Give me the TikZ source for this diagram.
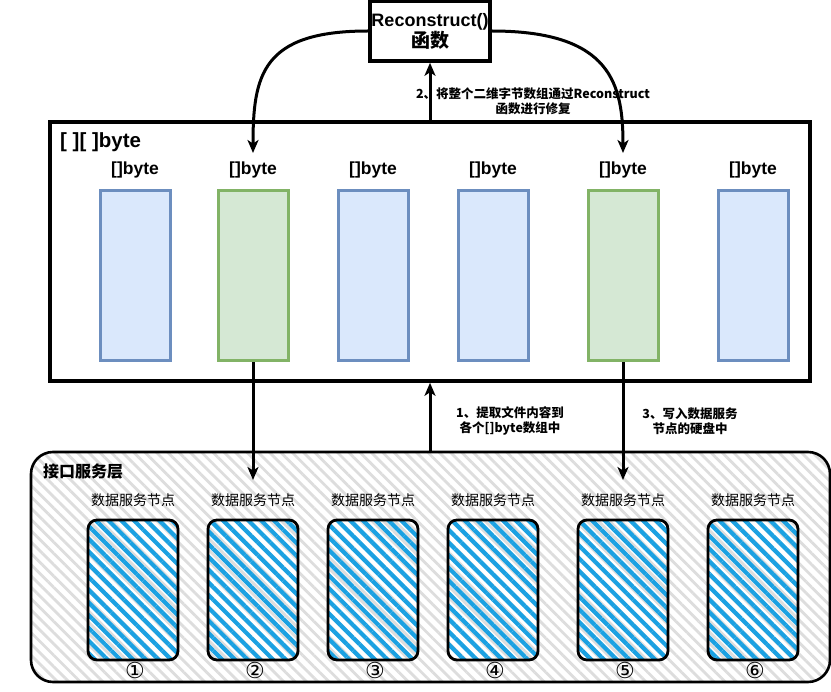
\documentclass[tikz,border=0pt]{standalone}
\usepackage{fontspec}
\setmainfont{Liberation Sans}
\newfontfamily\cjk{Noto Sans CJK SC}
\newfontfamily\dejavu{DejaVu Sans}
\usetikzlibrary{arrows.meta,patterns.meta}
\definecolor{bluefill}{HTML}{DAE8FC}
\definecolor{blueline}{HTML}{6C8EBF}
\definecolor{greenfill}{HTML}{D5E8D4}
\definecolor{greenline}{HTML}{82B366}
\definecolor{hatchblue}{HTML}{1BA1E2}
\definecolor{hatchgray}{HTML}{DDDDDD}
\tikzset{
  arr/.style={line width=3pt,-{Stealth[length=13pt,width=11pt,inset=3.5pt]}},
  bluebox/.style={draw=blueline,fill=bluefill,line width=3pt,minimum width=70pt,minimum height=170pt,inner sep=0pt},
  greenbox/.style={draw=greenline,fill=greenfill,line width=3pt,minimum width=70pt,minimum height=170pt,inner sep=0pt},
  bytelbl/.style={font=\bfseries\fontsize{17.5}{18}\selectfont,inner sep=0pt},
  datanode/.style={draw=black,line width=2.8pt,rounded corners=9pt,minimum width=90pt,minimum height=140pt,inner sep=0pt,
    pattern={Lines[angle=-45,distance=9pt,line width=4.2pt]},pattern color=hatchblue},
  dlbl/.style={font=\cjk\fontsize{14}{16}\selectfont,inner sep=0pt},
  numlbl/.style={font=\dejavu\fontsize{22}{22}\selectfont,inner sep=0pt},
  note/.style={font=\cjk\bfseries\fontsize{12.5}{15}\selectfont,align=center,inner sep=0pt}
}
\begin{document}
\begin{tikzpicture}[x=1pt,y=-1pt]
\useasboundingbox (0,0) rectangle (831,692);
% bottom layer
\node[draw=black,line width=2.6pt,rounded corners=22pt,minimum width=799pt,minimum height=230pt,inner sep=0pt,
  preaction={fill=white},pattern={Lines[angle=-45,distance=8pt,line width=2.8pt]},pattern color=hatchgray] (layer) at (430.5,567) {};
\node[font=\cjk\bfseries\fontsize{16}{18}\selectfont,anchor=west,inner sep=0pt] (layerlbl) at (43,472) {接口服务层};
% data nodes
\foreach \i/\x/\n in {1/133/①,2/253/②,3/373/③,4/493/④,5/623/⑤,6/753/⑥}{
  \node[datanode] (d\i) at (\x,590) {};
  \node[dlbl] (dl\i) at (\x,500) {数据服务节点};
  \node[numlbl] (n\i) at (\x+2,670) {\n};
}
% big frame
\node[draw=black,line width=3.6pt,minimum width=760pt,minimum height=259pt,inner sep=0pt] (frame) at (430,251.5) {};
\node[font=\bfseries\fontsize{20.5}{21}\selectfont,anchor=west,inner sep=0pt] (flbl) at (60,142) {[ ][ ]byte};
\node[bluebox] (b1) at (135,276) {};
\node[greenbox] (b2) at (253,276) {};
\node[bluebox] (b3) at (373,276) {};
\node[bluebox] (b4) at (493,276) {};
\node[greenbox] (b5) at (623,276) {};
\node[bluebox] (b6) at (753,276) {};
\foreach \i/\x in {1/135,2/253,3/373,4/493,5/623,6/753}{
  \node[bytelbl] (bl\i) at (\x,170) {[]byte};
}
% reconstruct box
\node[draw=black,line width=3.6pt,fill=white,minimum width=120pt,minimum height=60pt,align=center,inner sep=0pt,
  font=\bfseries\fontsize{18}{21}\selectfont] (rec) at (430,31) {Reconstruct()\\{\cjk\fontsize{19}{21}\selectfont 函数}};
% arrows
\coordinate (c2) at (253,153);
\coordinate (c5) at (623,153);
\draw[arr] (rec.west) .. controls (262,31) and (253,75) .. (c2);
\draw[arr] (rec.east) .. controls (612,31) and (623,85) .. (c5);
\draw[arr] (frame.north -| rec.south) -- (rec.south);
\node[note] (t2) at (533,101) {2、将整个二维字节数组通过Reconstruct\\函数进行修复};
\coordinate (e2) at (253,480);
\coordinate (e5) at (623,480);
\draw[arr] (b2.south) -- (e2);
\draw[arr] (b5.south) -- (e5);
\draw[arr] (layer.north -| rec.south) -- (frame.south -| rec.south);
\node[note] (t1) at (510,421) {1、提取文件内容到\\各个[]byte数组中};
\node[note] (t3) at (690,421) {3、写入数据服务\\节点的硬盘中};
\end{tikzpicture}
\end{document}
